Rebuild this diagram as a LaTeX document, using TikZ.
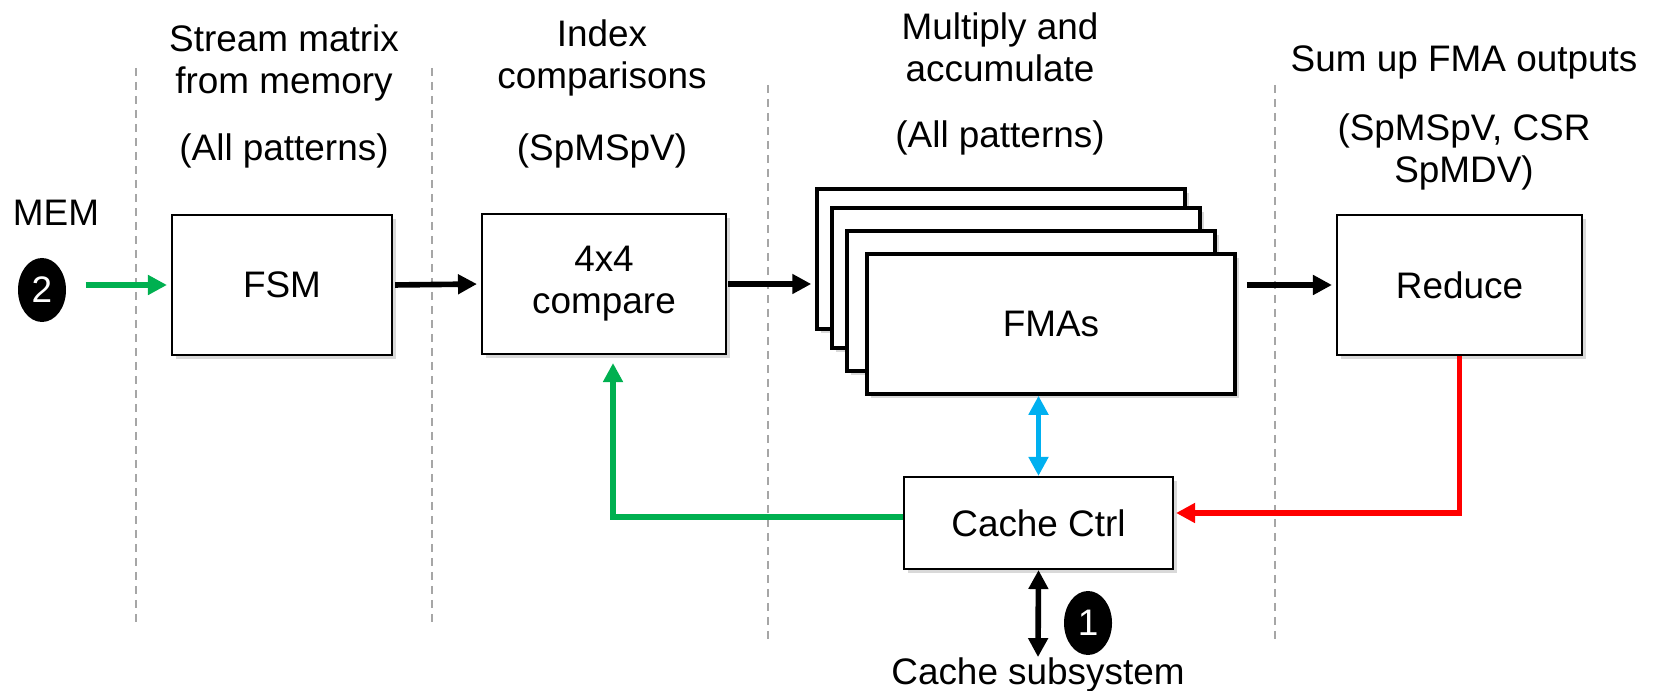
\documentclass[tikz,border=0pt]{standalone}
\usepackage{fontspec}
\setmainfont{Liberation Sans}
\usepackage{tikz}
\usetikzlibrary{arrows.meta, positioning, calc, shapes.geometric, shadows}
\definecolor{pgreen}{RGB}{0,176,80}
\definecolor{pblue}{RGB}{0,176,240}
\definecolor{pred}{RGB}{255,0,0}

\begin{document}
\begin{tikzpicture}[
    every node/.style={font=\fontsize{10.5}{12}\selectfont},
    unit/.style={draw, line width=0.6pt, fill=white, minimum width=2.2cm, minimum height=1.4cm, align=center,
        drop shadow={shadow xshift=0.04cm, shadow yshift=-0.04cm, opacity=0.3}},
    fmabox/.style={unit, line width=1pt, minimum width=3.68cm, minimum height=1.4cm},
    header/.style={align=center, inner sep=0pt},
    badge/.style={ellipse, fill=black, text=white, minimum width=0.48cm, minimum height=0.64cm, inner sep=0pt},
    stage/.style={gray!70, line width=0.5pt, dash pattern=on 0.08cm off 0.06cm},
    flow/.style={-{Triangle[length=0.19cm, width=0.19cm]}, line width=1.6pt, shorten >=0.04cm},
    both/.style={{Triangle[length=0.19cm, width=0.19cm]}-{Triangle[length=0.19cm, width=0.19cm]}, line width=1.6pt}
]
    \useasboundingbox (0,0) rectangle (16.55,-6.91);

    % --- stage separators ---
    \foreach \x/\t/\b in {1.36/0.68/6.27, 4.32/0.68/6.27, 7.68/0.85/6.43, 12.75/0.85/6.43} {
        \draw[stage] (\x,-\t) -- (\x,-\b);
    }

    % --- stage headers ---
    \node[header] (h1) at (2.84,-0.63) {Stream matrix\\from memory};
    \node[header] (p1) at (2.84,-1.51) {(All patterns)};
    \node[header] (h2) at (6.02,-0.58) {Index\\comparisons};
    \node[header] (p2) at (6.02,-1.51) {(SpMSpV)};
    \node[header] (h3) at (10.0,-0.47) {Multiply and\\accumulate};
    \node[header] (p3) at (10.0,-1.38) {(All patterns)};
    \node[header] (h4) at (14.64,-0.62) {Sum up FMA outputs};
    \node[header] (p4) at (14.64,-1.52) {(SpMSpV, CSR\\SpMDV)};

    % --- pipeline ---
    \node[header] (mem) at (0.56,-2.13) {MEM};
    \node[badge] (m2) at (0.42,-2.90) {2};
    \node[unit] (fsm) at (2.82,-2.85) {FSM};
    \node[unit, minimum width=2.44cm] (cmp) at (6.04,-2.84) {4x4\\compare};

    \def\fx{10.51}
    \def\fy{-3.24}
    \foreach \n/\dx/\dy in {3/-0.5/0.65, 2/-0.35/0.46, 1/-0.2/0.23} {
        \node[fmabox] (fma\n) at (\fx+\dx,\fy+\dy) {};
    }
    \node[fmabox] (fma0) at (\fx,\fy) {FMAs};

    \node[unit, minimum width=2.45cm] (red) at (14.595,-2.85) {Reduce};
    \node[unit, minimum width=2.69cm, minimum height=0.92cm] (cc) at (10.385,-5.23) {Cache Ctrl};
    \node[header] (sub) at (10.38,-6.75) {Cache subsystem};
    \node[badge] (m1) at (10.88,-6.23) {1};

    % --- connections ---
    \draw[flow, pgreen, shorten <=0.19cm] (m2.east |- fsm.west) -- (fsm.west);
    \draw[flow, shorten <=0.02cm] (fsm.east) -- (cmp.west);
    \draw[flow, shorten <=0.01cm] (cmp.east) -- (cmp.east -| fma3.west);
    \draw[flow, shorten <=0.1cm] (fma0.east |- red.west) -- (red.west);
    \draw[flow, pgreen, line width=1.8pt, shorten >=0.08cm] ([yshift=0.06cm]cc.west) -| ([xshift=0.09cm]cmp.south);
    \draw[flow, pred, shorten >=0.02cm] (red.south) |- ([yshift=0.1cm]cc.east);
    \draw[both, pblue] (cc.north) -- (cc.north |- fma0.south);
    \draw[both] (cc.south) -- (sub.north);

\end{tikzpicture}
\end{document}
